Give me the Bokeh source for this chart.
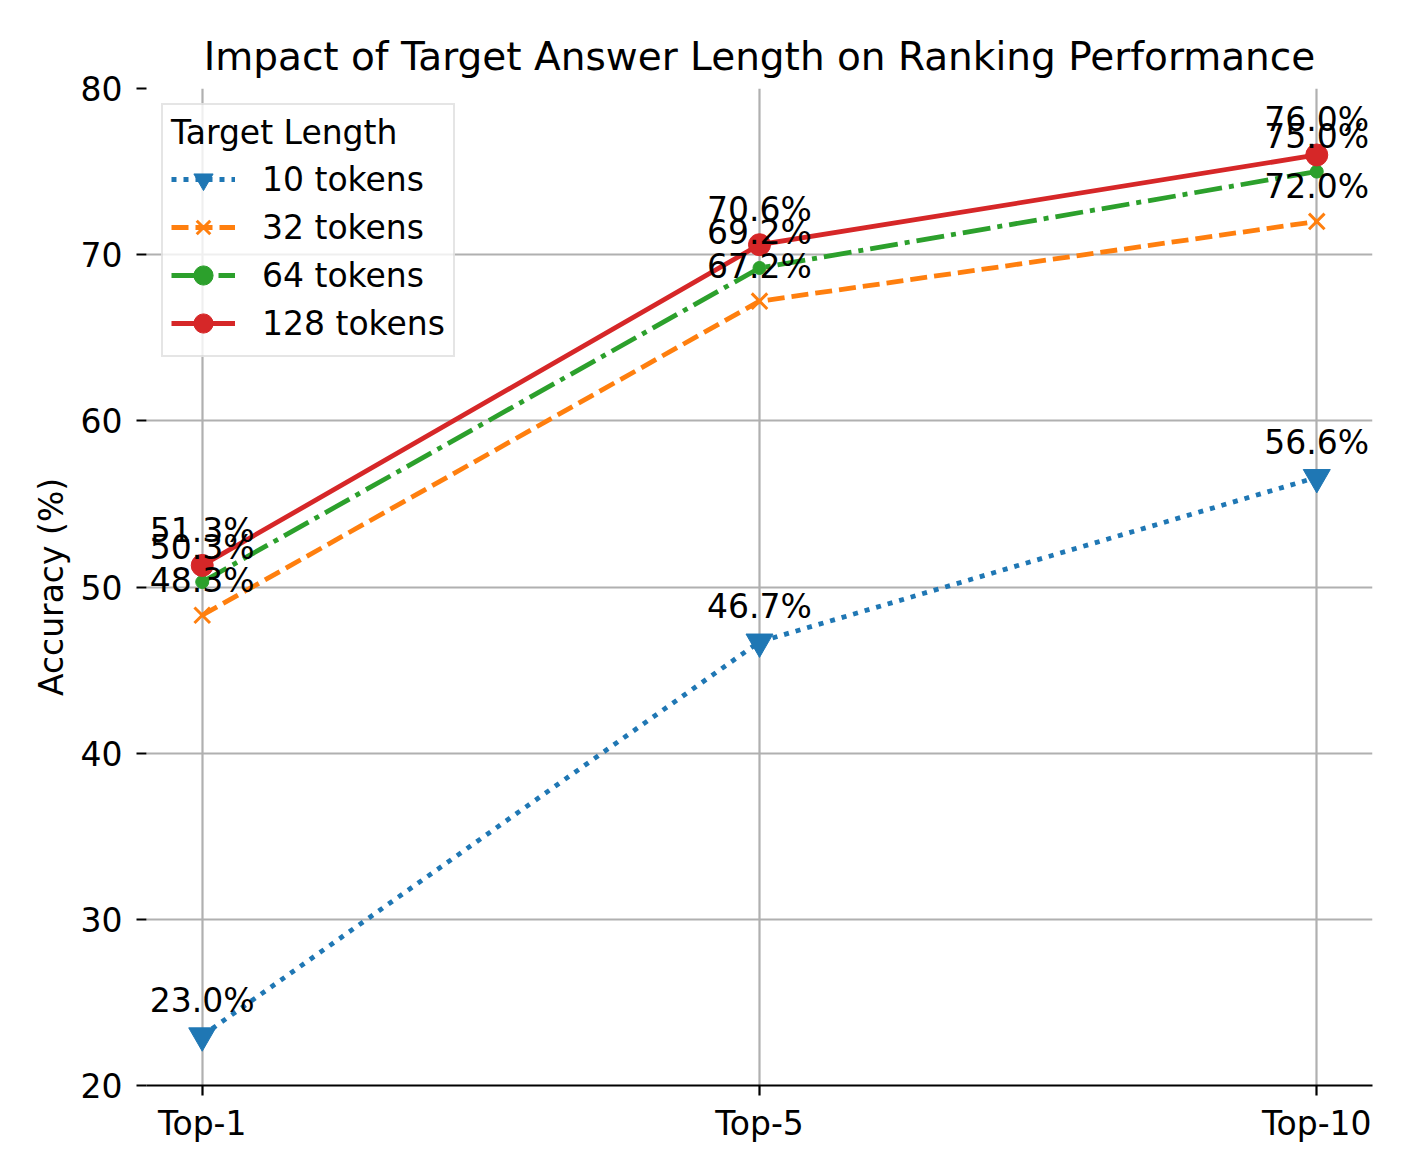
from bokeh.plotting import figure
from bokeh.models import Range1d, FixedTicker, Legend, LegendItem
from bokeh.embed import file_html
from bokeh.resources import INLINE
from bokeh.core.properties import value

# ---- data ----
categories = ["Top-1", "Top-5", "Top-10"]
series_names = ["10 tokens", "32 tokens", "64 tokens", "128 tokens"]
acc_10 = [23.0, 46.7, 56.6]
acc_32 = [48.3, 67.2, 72.0]
acc_64 = [50.3, 69.2, 75.0]
acc_128 = [51.3, 70.6, 76.0]
y_ticks = [20, 30, 40, 50, 60, 70, 80]

FONT = "DejaVu Sans"
FS = "33px"
xs = list(range(len(categories)))

p = figure(
    width=1404, height=1168,
    x_range=Range1d(-0.1, len(categories) - 1 + 0.1),
    y_range=Range1d(20, 80),
    output_backend="svg", toolbar_location=None,
    min_border_left=146, min_border_right=32,
    min_border_top=88, min_border_bottom=83,
    title="Impact of Target Answer Length on Ranking Performance",
)
p.outline_line_color = None
p.background_fill_color = "white"
p.border_fill_color = "white"

p.title.text_font = FONT
p.title.text_font_size = "39px"
p.title.text_font_style = "normal"
p.title.text_color = "black"
p.title.align = "center"
p.title.standoff = 19

# axes
p.xaxis.ticker = FixedTicker(ticks=xs)
p.xaxis.major_label_overrides = {i: c for i, c in enumerate(categories)}
p.yaxis.ticker = FixedTicker(ticks=y_ticks)
for ax in (p.xaxis, p.yaxis):
    ax.major_label_text_font = FONT
    ax.major_label_text_font_size = FS
    ax.major_label_text_color = "black"
    ax.major_tick_out = 10
    ax.major_tick_in = 0
    ax.major_tick_line_width = 2.2
    ax.major_tick_line_color = "black"
    ax.minor_tick_line_color = None
p.xaxis.major_label_standoff = 8
p.yaxis.major_label_standoff = 14
p.xaxis.axis_line_color = "black"
p.xaxis.axis_line_width = 2.2
p.yaxis.axis_line_color = None
p.yaxis.axis_label = "Accuracy (%)"
p.yaxis.axis_label_text_font = FONT
p.yaxis.axis_label_text_font_size = FS
p.yaxis.axis_label_text_font_style = "normal"
p.yaxis.axis_label_text_color = "black"
p.yaxis.axis_label_standoff = 7

p.xgrid.grid_line_color = "#b0b0b0"
p.ygrid.grid_line_color = "#b0b0b0"
p.xgrid.grid_line_width = 2.2
p.ygrid.grid_line_width = 2.2

series = [
    (series_names[0], acc_10, "#1f77b4", "5 7", "inverted_triangle", 27, 1),
    (series_names[1], acc_32, "#ff7f0e", "17 7", "x", 22, 3),
    (series_names[2], acc_64, "#2ca02c", "28 7 5 7", "circle", 13, 1),
    (series_names[3], acc_128, "#d62728", "solid", "circle", 22, 1),
]

items = []
for name, vals, color, dash, marker, size, mlw in series:
    lr = p.line(xs, vals, line_color=color, line_width=4.8, line_dash=dash)
    sr = p.scatter(xs, vals, marker=marker, size=size, fill_color=color,
                   line_color=color, line_width=mlw)
    items.append(LegendItem(label=name, renderers=[lr, sr]))

for name, vals, color, dash, marker, size, mlw in series:
    p.text(xs, vals, text=[f"{v:.1f}%" for v in vals],
           text_align="center", text_baseline="alphabetic", y_offset=-35,
           text_font=value(FONT), text_font_size=FS, text_color="black")

legend = Legend(items=items, location="top_left")
legend.title = "Target Length"
legend.title_text_font = FONT
legend.title_text_font_size = FS
legend.title_text_font_style = "normal"
legend.title_text_color = "black"
legend.title_standoff = 3
legend.label_text_font = FONT
legend.label_text_font_size = FS
legend.label_text_color = "black"
legend.glyph_width = 64
legend.glyph_height = 48
legend.label_height = 48
legend.spacing = 0
legend.label_standoff = 27
legend.padding = 8
legend.margin = 15
legend.border_line_color = "#cccccc"
legend.border_line_width = 2.5
legend.background_fill_alpha = 0.8
p.add_layout(legend)

open("out.html", "w").write(file_html(p, INLINE))
